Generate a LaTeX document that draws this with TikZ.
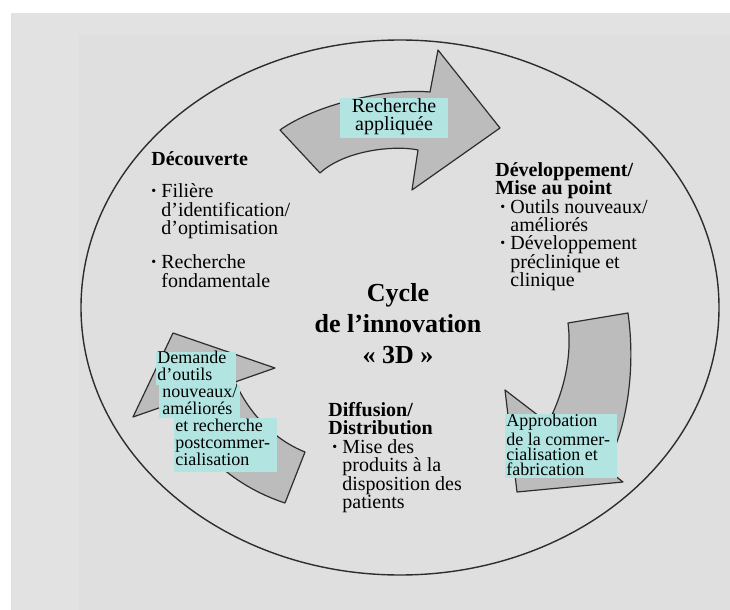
\documentclass[tikz,border=0pt]{standalone}
\usepackage{fontspec}
\setmainfont{Liberation Serif}
\usepackage{tikz}
\definecolor{fondext}{RGB}{226,226,226}
\definecolor{fondint}{RGB}{223,223,223}
\definecolor{grisfleche}{RGB}{188,188,188}
\definecolor{cyanclair}{RGB}{178,228,226}
\definecolor{trait}{RGB}{45,45,45}
\newcommand{\puce}{\makebox[5pt][l]{\raisebox{1pt}{\scriptsize\textbullet}}}
\newcommand{\retrait}{\hspace*{5pt}}
\tikzset{
  fleche/.style={fill=grisfleche,draw=trait,line width=0.6pt,line join=round},
  boite/.style={fill=cyanclair},
  bloc/.style={inner sep=0pt,anchor=north west,align=left,font=\fontsize{10}{9.2}\selectfont},
  petit/.style={inner sep=0pt,anchor=north west,align=left,font=\fontsize{9}{8.4}\selectfont},
}

\begin{document}
\begin{tikzpicture}[line cap=round,line join=round,x=0.5pt,y=-0.5pt]
\useasboundingbox (0,0) rectangle (730,610);
\fill[white] (0,0) rectangle (730,610);
\fill[fondext] (11,13) rectangle (730,610);
\fill[fondint] (79,35) rectangle (730,610);
\draw[trait,line width=0.7pt] (400,307.5) ellipse [x radius=319, y radius=267.5];
\draw[fleche] (280,130) .. controls (315,105) and (385,88) .. (430,92) -- (438,50) -- (500,128) -- (412,190) -- (418,150) .. controls (395,145) and (345,150) .. (320,173) -- cycle;
\draw[fleche] (568,323) -- (628,313) .. controls (636,370) and (627,430) .. (605,468) -- (623,482) -- (517,492) -- (505,390) -- (548,423) .. controls (565,390) and (572,355) .. (568,323) -- cycle;
\draw[fleche] (305,452) -- (285,503) .. controls (230,485) and (190,445) .. (176,402) -- (133,417) -- (173,333) -- (275,368) -- (235,382) .. controls (250,415) and (275,440) .. (305,452) -- cycle;
\fill[boite] (340,98) rectangle (448,138);
\fill[boite] (505,414) rectangle (617,478);
\fill[boite] (156,352) rectangle (236,385);
\fill[boite] (159,385) rectangle (240,418);
\fill[boite] (174,418) rectangle (277,472);
\node[bloc] (decouverte) at (151,151) {\textbf{Découverte}\\[7pt]
  \puce Filière\\ \retrait d’identification/\\ \retrait d’optimisation\\[8pt]
  \puce Recherche\\ \retrait fondamentale};
\node[bloc] (developpement) at (495,162) {\textbf{Développement/}\\ \textbf{Mise au point}\\
  \hspace*{2.5pt}\puce Outils nouveaux/\\ \hspace*{2.5pt}\retrait améliorés\\
  \hspace*{2.5pt}\puce Développement\\ \hspace*{2.5pt}\retrait préclinique et\\ \hspace*{2.5pt}\retrait clinique};
\node[bloc] (diffusion) at (328,402) {\textbf{Diffusion/}\\ \textbf{Distribution}\\
  \hspace*{2pt}\puce Mise des\\ \hspace*{2pt}\retrait produits à la\\ \hspace*{2pt}\retrait disposition des\\ \hspace*{2pt}\retrait patients};
\node[align=center,inner sep=0pt,font=\fontsize{13}{15.5}\selectfont\bfseries] (cycle) at (398,324) {Cycle\\ de l’innovation\\ « 3D »};
\node[align=center,inner sep=0pt,font=\fontsize{10}{9}\selectfont] (rechapp) at (394,117) {Recherche\\ appliquée};
\node[petit,font=\fontsize{9}{7.6}\selectfont] (approb) at (506,414) {Approbation\\ de la commer-\\ cialisation et\\ fabrication};
\node[petit] (demande) at (157,351) {Demande\\ d’outils\\ \hspace*{2.5pt}nouveaux/\\ \hspace*{2.5pt}améliorés};
\node[petit] (postcom) at (175,419) {et recherche\\ postcommer-\\ cialisation};
\end{tikzpicture}
\end{document}
